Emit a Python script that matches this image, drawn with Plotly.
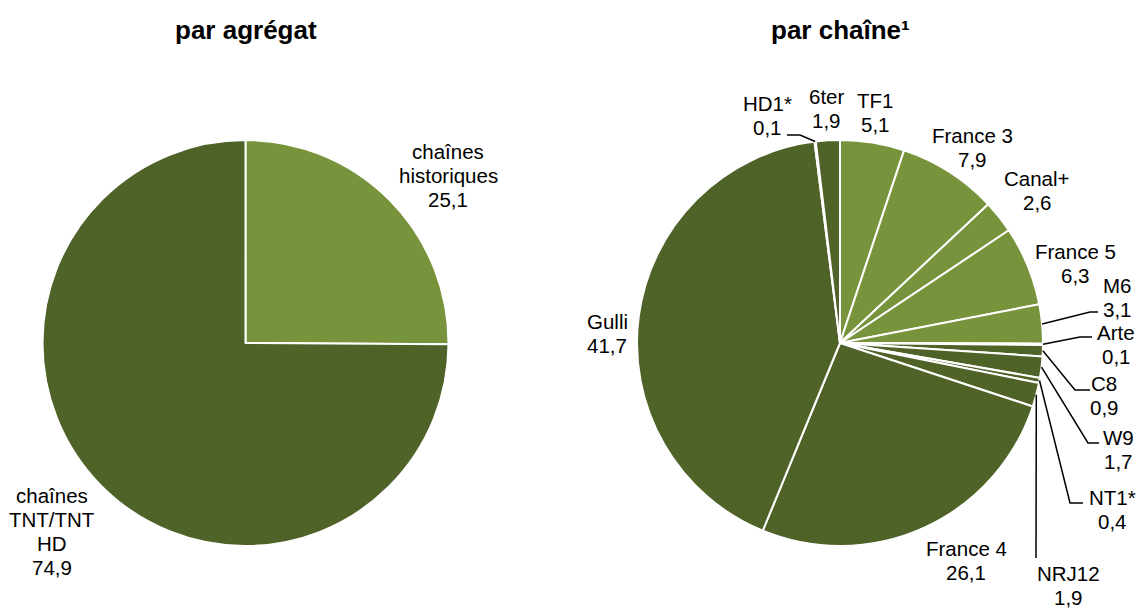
import math
import plotly.graph_objects as go

# ---------------- data ----------------
agg_labels = ["chaînes<br>historiques", "chaînes<br>TNT/TNT<br>HD"]
agg_values = [25.1, 74.9]
agg_groups = ["hist", "tnt"]

ch_labels = ["TF1", "France 3", "Canal+", "France 5", "M6", "Arte",
             "C8", "W9", "NT1*", "NRJ12", "France 4", "Gulli", "HD1*", "6ter"]
ch_values = [5.1, 7.9, 2.6, 6.3, 3.1, 0.1,
             0.9, 1.7, 0.4, 1.9, 26.1, 41.7, 0.1, 1.9]
ch_groups = ["hist"] * 6 + ["tnt"] * 8

titles = ["par agrégat", "par chaîne¹"]

# ---------------- style / layout ----------------
W, H = 1137, 608
COLORS = {"hist": "#77933C", "tnt": "#4F6228"}
FONT = "Liberation Sans, Arial, sans-serif"
FS = 20.5
LINE = 24
R = 203
CENTERS = [(245.5, 343), (840, 343)]

# label centres (pixel layout positions)
agg_label_pos = [(448, 175), (52, 531)]
ch_label_pos = {
    "TF1": (875, 112), "France 3": (972, 147), "Canal+": (1037, 190),
    "France 5": (1075, 263), "M6": (1117, 297), "Arte": (1116, 344),
    "C8": (1104, 395), "W9": (1118, 449), "NT1*": (1112, 509),
    "NRJ12": (1068, 585), "France 4": (966, 560), "Gulli": (607, 333),
    "HD1*": (767, 115), "6ter": (826, 108),
}
# leader-line bend / end points (pixel layout positions)
leaders = {
    "HD1*": [(800, 135), (787, 135)],
    "M6": [(1090, 312), (1098, 312)],
    "Arte": [(1080, 337), (1092, 337)],
    "C8": [(1075, 390), (1090, 390)],
    "W9": [(1088, 443), (1099, 443)],
    "NT1*": [(1070, 503), (1083, 503)],
    "NRJ12": [(1036, 558)],
}


def fmt(v):
    return f"{v:.1f}".replace(".", ",")


def domain(cx, cy, r):
    return dict(x=[(cx - r) / W, (cx + r) / W],
                y=[1 - (cy + r) / H, 1 - (cy - r) / H])


fig = go.Figure()

for (cx, cy), labels, values, groups in [
    (CENTERS[0], agg_labels, agg_values, agg_groups),
    (CENTERS[1], ch_labels, ch_values, ch_groups),
]:
    fig.add_trace(go.Pie(
        labels=[l.replace("<br>", " ") for l in labels], values=values,
        sort=False, direction="clockwise",
        rotation=0, textinfo="none", hoverinfo="label+value",
        marker=dict(colors=[COLORS[g] for g in groups],
                    line=dict(color="white", width=2)),
        domain=domain(cx, cy, R), showlegend=False,
    ))

annotations = []
shapes = []


def add_label(lines, x, y):
    n = len(lines)
    for i, line in enumerate(lines):
        annotations.append(dict(
            x=x, y=y + (i - (n - 1) / 2) * LINE, xref="x", yref="y", text=line,
            showarrow=False, font=dict(size=FS, color="black", family=FONT),
            xanchor="center", yanchor="middle", align="center", borderpad=0))


# titles
for (cx, _), t in zip(CENTERS, titles):
    annotations.append(dict(x=cx, y=30, xref="x", yref="y", text=f"<b>{t}</b>",
                            showarrow=False, font=dict(size=26, color="black", family=FONT),
                            xanchor="center", yanchor="middle"))

# left labels
for lab, v, (x, y) in zip(agg_labels, agg_values, agg_label_pos):
    add_label(lab.split("<br>") + [fmt(v)], x, y)

# right labels + leaders
total = sum(ch_values)
cum = 0.0
cx, cy = CENTERS[1]
for lab, v in zip(ch_labels, ch_values):
    mid = (cum + v / 2) / total * 2 * math.pi
    cum += v
    x, y = ch_label_pos[lab]
    add_label([lab, fmt(v)], x, y)
    if lab in leaders:
        sx = cx + R * math.sin(mid)
        sy = cy - R * math.cos(mid)
        pts = [(sx, sy)] + leaders[lab]
        path = "M " + " L ".join(f"{px:.1f},{py:.1f}" for px, py in pts)
        shapes.append(dict(type="path", path=path, xref="x", yref="y",
                           line=dict(color="black", width=1.5)))

fig.update_layout(
    width=W, height=H,
    margin=dict(l=0, r=0, t=0, b=0),
    paper_bgcolor="white", plot_bgcolor="rgba(0,0,0,0)",
    xaxis=dict(range=[0, W], visible=False, domain=[0, 1], fixedrange=True),
    yaxis=dict(range=[H, 0], visible=False, domain=[0, 1], fixedrange=True),
    annotations=annotations, shapes=shapes,
    font=dict(family=FONT),
)

fig.write_html("out.html", config={"displayModeBar": False},
               post_script="document.body.style.margin='0';")
